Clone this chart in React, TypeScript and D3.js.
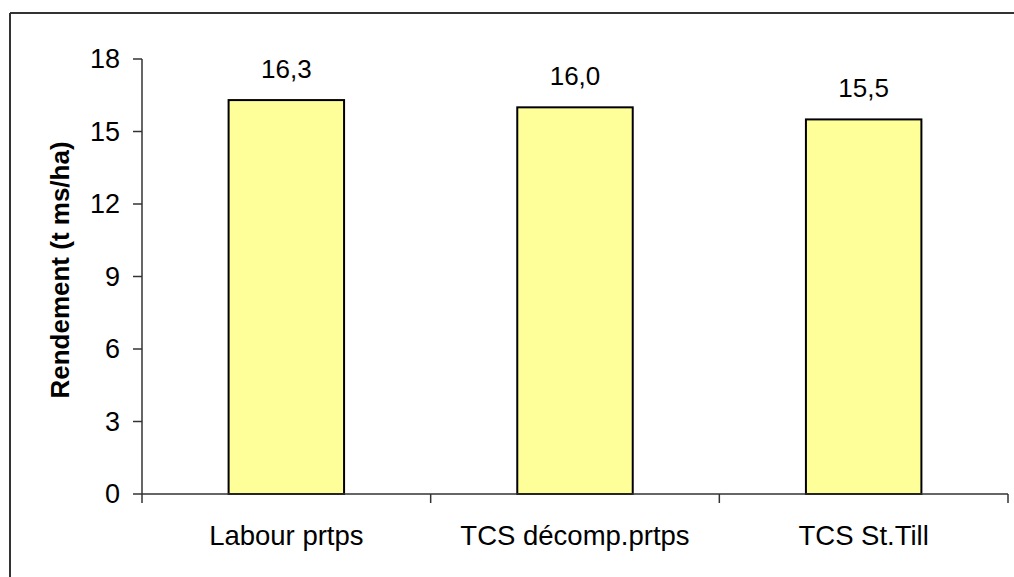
import React from "react";
import * as d3 from "d3";

const categories = ["Labour prtps", "TCS décomp.prtps", "TCS St.Till"];
const values = [16.3, 16.0, 15.5];
const valueLabels = ["16,3", "16,0", "15,5"];
const yTicks = [0, 3, 6, 9, 12, 15, 18];
const yTitle = "Rendement (t ms/ha)";

const W = 1014;
const H = 577;
const left = 142;
const right = 1008;
const top = 59;
const bottom = 494;
const font = "'Liberation Sans', Arial, sans-serif";

export default function App() {
  const x = d3.scaleBand<string>().domain(categories).range([left, right]).paddingInner(0).paddingOuter(0);
  const y = d3.scaleLinear().domain([0, 18]).range([bottom, top]);
  const bw = x.bandwidth() * 0.4;
  const boundaries = [left, ...categories.map((c) => (x(c) as number) + x.bandwidth())];
  const axisColor = "#333";
  return (
    <div style={{ position: "absolute", left: 0, top: 0 }}>
      <svg width={W} height={H} style={{ display: "block", background: "#fff" }}>
        <rect x={0} y={0} width={W} height={H} fill="#fff" />
        <line x1={10} y1={13} x2={W} y2={13} stroke="#333" strokeWidth={2} />
        <line x1={10} y1={13} x2={10} y2={H} stroke="#333" strokeWidth={2} />
        {categories.map((c, i) => {
          const cx = (x(c) as number) + x.bandwidth() / 2;
          return (
            <g key={c}>
              <rect
                x={cx - bw / 2}
                y={y(values[i])}
                width={bw}
                height={bottom - y(values[i])}
                fill="#FFFF99"
                stroke="#000"
                strokeWidth={2}
              />
              <text
                x={cx}
                y={y(values[i]) - 22}
                textAnchor="middle"
                fontFamily={font}
                fontSize={26}
                fill="#000"
              >
                {valueLabels[i]}
              </text>
              <text x={cx} y={545} textAnchor="middle" fontFamily={font} fontSize={27.5} fill="#000">
                {c}
              </text>
            </g>
          );
        })}
        <line x1={left} y1={top} x2={left} y2={bottom} stroke={axisColor} strokeWidth={1.5} />
        {yTicks.map((t) => (
          <g key={t}>
            <line x1={133} y1={y(t)} x2={left} y2={y(t)} stroke={axisColor} strokeWidth={1.5} />
            <text
              x={120}
              y={y(t)}
              dy="0.35em"
              textAnchor="end"
              fontFamily={font}
              fontSize={27}
              fill="#000"
            >
              {t}
            </text>
          </g>
        ))}
        <line x1={left} y1={bottom} x2={right} y2={bottom} stroke={axisColor} strokeWidth={1.5} />
        {boundaries.map((b, i) => (
          <line key={i} x1={b} y1={bottom} x2={b} y2={bottom + 9} stroke={axisColor} strokeWidth={1.5} />
        ))}
        <text
          transform={`translate(60, 270) rotate(-90)`}
          textAnchor="middle"
          dy="0.35em"
          fontFamily={font}
          fontSize={26}
          fontWeight="bold"
          fill="#000"
        >
          {yTitle}
        </text>
      </svg>
    </div>
  );
}
